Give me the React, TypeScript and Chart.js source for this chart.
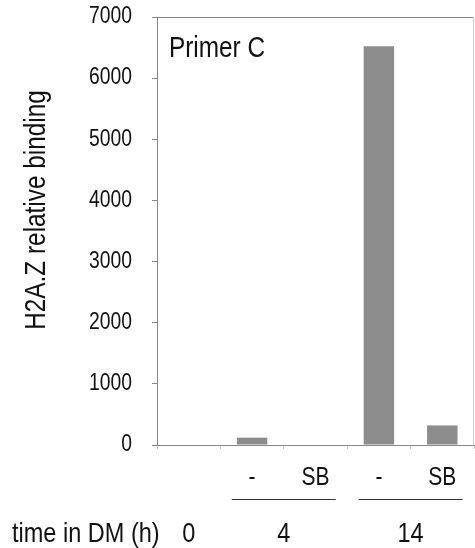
import React, { useEffect, useRef } from 'react';
import { Chart, registerables } from 'chart.js';

Chart.register(...registerables);

// ---- data ----
const categories = ['0', '4 -', '4 SB', '14 -', '14 SB'];
const treatmentLabels = ['', '-', 'SB', '-', 'SB'];
const timeLabels = ['0', '4', '14'];
const timeGroupStart = [0, 1, 3];
const timeGroupEnd = [0, 2, 4];
const binding = [0, 120, 0, 6520, 320];
const yMin = 0;
const yMax = 7000;
const yStep = 1000;

const yTitle = 'H2A.Z relative binding';
const panelLabel = 'Primer C';
const xTitle = 'time in DM (h)';

const FONT = "'Liberation Sans', Arial, sans-serif";
const CONDENSE = 0.84;
const AXIS = '#868686';
const BAR = '#8c8c8c';
const TEXT = '#111111';

function narrowText(
  ctx: CanvasRenderingContext2D,
  text: string,
  x: number,
  y: number,
  size: number,
  align: CanvasTextAlign,
  baseline: CanvasTextBaseline = 'alphabetic',
  rotate = 0
) {
  ctx.save();
  ctx.translate(x, y);
  if (rotate) ctx.rotate(rotate);
  ctx.scale(CONDENSE, 1);
  ctx.font = `${size}px ${FONT}`;
  ctx.textAlign = align;
  ctx.textBaseline = baseline;
  ctx.fillText(text, 0, 0);
  ctx.restore();
}

const labelsPlugin = {
  id: 'labelsPlugin',
  afterDraw(chart: any) {
    const { ctx, chartArea: ca } = chart;
    const x = chart.scales.x;
    const y = chart.scales.y;
    ctx.save();
    // right frame line
    ctx.strokeStyle = '#d0d0d0';
    ctx.lineWidth = 1;
    ctx.beginPath();
    ctx.moveTo(ca.right - 0.5, ca.top);
    ctx.lineTo(ca.right - 0.5, ca.bottom);
    ctx.stroke();

    ctx.fillStyle = TEXT;

    // y tick labels, from the scale's own ticks
    y.ticks.forEach((t: any) => {
      narrowText(ctx, String(t.value), y.right - 25, y.getPixelForValue(t.value), 23, 'right', 'middle');
    });

    // panel label
    narrowText(ctx, panelLabel, ca.left + 12, ca.top + 40, 29, 'left');

    // treatment labels
    treatmentLabels.forEach((t, i) => {
      if (!t) return;
      narrowText(ctx, t, x.getPixelForValue(i), ca.bottom + 40, 25, 'center');
    });

    // group underlines and time labels
    ctx.strokeStyle = '#333333';
    ctx.lineWidth = 1;
    timeLabels.forEach((t, g) => {
      const a = x.getPixelForValue(timeGroupStart[g]);
      const b = x.getPixelForValue(timeGroupEnd[g]);
      const c = (a + b) / 2;
      if (timeGroupEnd[g] > timeGroupStart[g]) {
        ctx.beginPath();
        ctx.moveTo(c - 52, ca.bottom + 54.5);
        ctx.lineTo(c + 52, ca.bottom + 54.5);
        ctx.stroke();
      }
      narrowText(ctx, t, c, ca.bottom + 97, 28, 'center');
    });
    narrowText(ctx, xTitle, 12, ca.bottom + 97, 28, 'left');

    // y title
    narrowText(ctx, yTitle, 45, (ca.top + ca.bottom) / 2 - 21, 29, 'center', 'alphabetic', -Math.PI / 2);

    ctx.restore();
  },
};

export default function App() {
  const ref = useRef<HTMLCanvasElement | null>(null);
  useEffect(() => {
    document.body.style.margin = '0';
    const canvas = ref.current!;
    const chart = new Chart(canvas, {
      type: 'bar',
      data: {
        labels: categories,
        datasets: [
          {
            data: binding,
            backgroundColor: BAR,
            borderWidth: 0,
            barPercentage: 0.48,
            categoryPercentage: 1,
          },
        ],
      },
      options: {
        responsive: false,
        animation: false,
        devicePixelRatio: 1,
        layout: { padding: { top: 17, right: 1, left: 0, bottom: 0 } },
        plugins: { legend: { display: false }, tooltip: { enabled: false }, title: { display: false } },
        scales: {
          x: {
            offset: true,
            ticks: { display: false },
            grid: {
              display: true,
              offset: true,
              drawOnChartArea: false,
              tickLength: 4,
              tickColor: '#c8c8c8',
            },
            border: { display: true, color: AXIS, width: 1 },
            afterFit: (s: any) => {
              s.height = 103;
            },
          },
          y: {
            min: yMin,
            max: yMax,
            ticks: {
              display: false,
              stepSize: yStep,
            },
            grid: {
              display: true,
              drawOnChartArea: true,
              tickLength: 5,
              tickColor: AXIS,
              color: (c: any) => (c.tick && c.tick.value === yMax ? AXIS : 'rgba(0,0,0,0)'),
            },
            border: { display: true, color: AXIS, width: 1 },
            afterFit: (s: any) => {
              s.width = 157;
              s.paddingTop = 0;
              s.paddingBottom = 0;
            },
          },
        },
      },
      plugins: [labelsPlugin],
    });
    return () => chart.destroy();
  }, []);
  return (
    <div style={{ width: 475, height: 548 }}>
      <canvas ref={ref} width={475} height={548} style={{ display: 'block' }} />
    </div>
  );
}
